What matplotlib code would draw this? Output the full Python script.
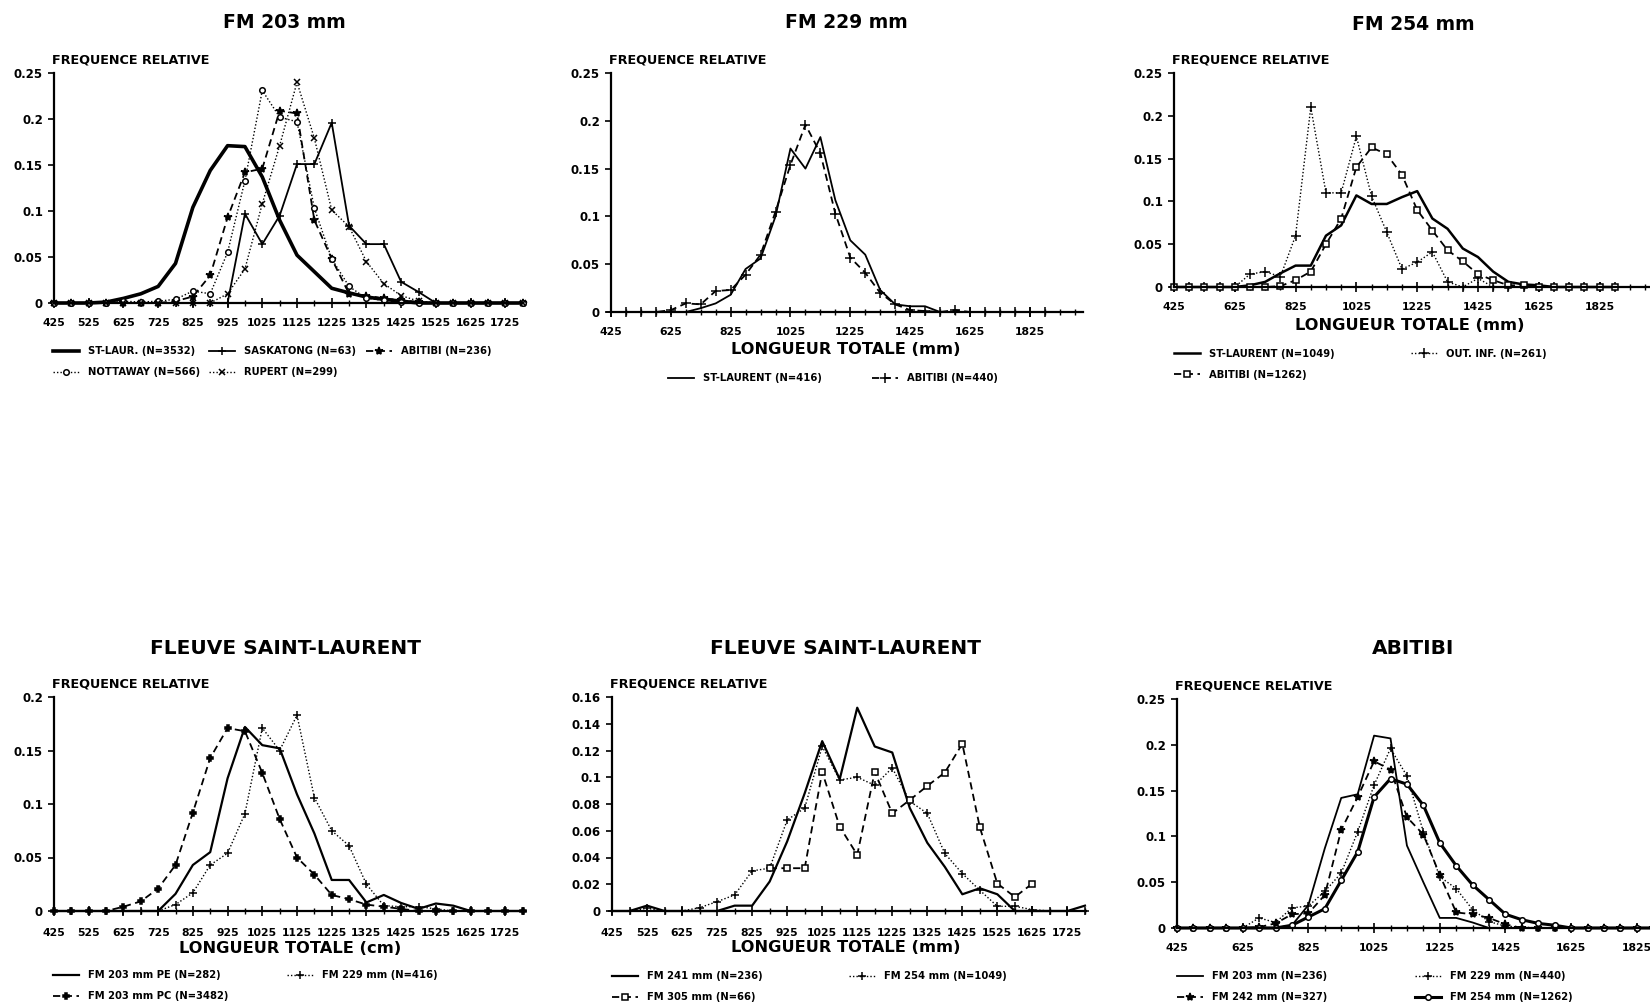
import numpy as np
import matplotlib
matplotlib.use('Agg')
import matplotlib.pyplot as plt

# Length class midpoints (mm), every 50 mm
classes_28 = np.arange(425, 1776, 50)   # 425 .. 1775
classes_30 = np.arange(425, 1876, 50)   # 425 .. 1875
classes_31 = np.arange(425, 1926, 50)   # 425 .. 1925

# --- FM 203 mm ---
st_laur_203 = [0, 0, 0, 0.001, 0.005, 0.01, 0.018, 0.043, 0.104, 0.144, 0.171, 0.170, 0.137, 0.09,
               0.052, 0.034, 0.016, 0.011, 0.0065, 0.004, 0.002, 0, 0, 0, 0, 0, 0, 0]
saskatong_203 = [0, 0, 0, 0, 0, 0, 0, 0, 0, 0, 0, 0.097, 0.064, 0.095, 0.151, 0.151, 0.196, 0.084,
                 0.064, 0.064, 0.023, 0.012, 0, 0, 0, 0, 0, 0]
abitibi_203 = [0, 0, 0, 0, 0, 0, 0, 0.002, 0.007, 0.03, 0.093, 0.142, 0.146, 0.209, 0.206, 0.09,
               0.048, 0.01, 0.008, 0.005, 0.003, 0.001, 0, 0, 0, 0, 0, 0]
nottaway_203 = [0, 0, 0, 0, 0.002, 0.001, 0.002, 0.004, 0.013, 0.01, 0.055, 0.133, 0.231, 0.202,
                0.197, 0.103, 0.048, 0.018, 0.005, 0.003, 0.001, 0, 0, 0, 0, 0, 0, 0]
rupert_203 = [0, 0, 0, 0, 0, 0, 0, 0, 0, 0, 0.01, 0.037, 0.108, 0.171, 0.24, 0.179, 0.101, 0.083,
              0.045, 0.021, 0.008, 0.002, 0, 0, 0, 0, 0, 0]

# --- FM 229 mm ---
st_laurent_229 = [0, 0, 0, 0, 0, 0, 0.004, 0.009, 0.018, 0.045, 0.056, 0.1, 0.171, 0.15, 0.183, 0.117,
                  0.075, 0.06, 0.023, 0.008, 0.006, 0.006, 0, 0, 0, 0, 0, 0, 0, 0]
abitibi_229 = [0, 0, 0, 0, 0.002, 0.009, 0.008, 0.022, 0.023, 0.039, 0.06, 0.105, 0.154, 0.196, 0.166,
               0.103, 0.057, 0.041, 0.02, 0.008, 0.002, 0.001, 0, 0.002, 0, 0, 0, 0, 0, 0]

# --- FM 254 mm ---
st_laurent_254 = [0, 0, 0, 0, 0, 0.002, 0.006, 0.016, 0.025, 0.025, 0.06, 0.072, 0.107, 0.097, 0.097,
                  0.105, 0.112, 0.08, 0.068, 0.045, 0.035, 0.018, 0.006, 0.003, 0.002, 0, 0, 0, 0, 0]
out_inf_254 = [0, 0, 0, 0, 0, 0.015, 0.018, 0.012, 0.06, 0.21, 0.11, 0.11, 0.176, 0.106, 0.064, 0.021,
               0.029, 0.041, 0.006, 0, 0.01, 0, 0, 0, 0, 0, 0, 0, 0, 0]
abitibi_254 = [0, 0, 0, 0, 0, 0, 0, 0.001, 0.008, 0.018, 0.05, 0.08, 0.14, 0.163, 0.155, 0.131, 0.09,
               0.066, 0.043, 0.03, 0.015, 0.008, 0.002, 0.002, 0, 0, 0, 0, 0, 0]

# --- Fleuve Saint-Laurent (cm panel) ---
sl_203_pe = [0, 0, 0, 0, 0, 0, 0, 0.016, 0.043, 0.055, 0.124, 0.172, 0.155, 0.152, 0.109, 0.0725,
             0.029, 0.029, 0.008, 0.015, 0.0075, 0.002, 0.007, 0.005, 0, 0, 0, 0]
sl_229 = [0, 0, 0, 0, 0, 0, 0, 0.006, 0.017, 0.043, 0.054, 0.091, 0.171, 0.15, 0.183, 0.106, 0.075,
          0.061, 0.025, 0.005, 0.004, 0.004, 0.002, 0, 0, 0, 0, 0]
sl_203_pc = [0, 0, 0, 0, 0.004, 0.009, 0.021, 0.043, 0.092, 0.143, 0.171, 0.168, 0.129, 0.086, 0.05,
             0.034, 0.015, 0.011, 0.006, 0.004, 0.002, 0, 0, 0, 0, 0, 0, 0]

# --- Fleuve Saint-Laurent (mm panel) ---
sl_241 = [0, 0, 0.004, 0, 0, 0, 0, 0.004, 0.004, 0.022, 0.052, 0.088, 0.127, 0.0985, 0.152, 0.123,
          0.1185, 0.077, 0.051, 0.033, 0.0125, 0.017, 0.0125, 0, 0, 0, 0, 0.004]
sl_254 = [0, 0, 0.002, 0, 0, 0.0025, 0.007, 0.012, 0.03, 0.032, 0.068, 0.077, 0.123, 0.098, 0.1,
          0.094, 0.107, 0.082, 0.073, 0.043, 0.028, 0.0155, 0.0035, 0.0035, 0.001, 0, 0, 0]
nan = np.nan
sl_305 = [nan, nan, nan, nan, nan, nan, nan, nan, nan, 0.032, 0.032, 0.032, 0.104, 0.063, 0.042,
          0.104, 0.073, 0.083, 0.0935, 0.1035, 0.125, 0.0625, 0.0205, 0.0105, 0.0205, nan, nan, nan]

# --- Abitibi ---
ab_203 = [0, 0, 0, 0, 0, 0, 0, 0.003, 0.025, 0.087, 0.142, 0.146, 0.21, 0.207, 0.09, 0.05, 0.011,
          0.011, 0.006, 0, 0, 0, 0, 0, 0, 0, 0, 0, 0, 0, 0]
ab_229 = [0, 0, 0, 0, 0, 0.011, 0.006, 0.022, 0.024, 0.04, 0.06, 0.105, 0.156, 0.196, 0.166, 0.105,
          0.056, 0.043, 0.02, 0.007, 0.002, 0.001, 0, 0, 0, 0, 0, 0, 0, 0, 0]
ab_242 = [0, 0, 0, 0, 0, 0.001, 0.005, 0.015, 0.016, 0.036, 0.107, 0.143, 0.182, 0.173, 0.121, 0.102,
          0.058, 0.017, 0.015, 0.011, 0.004, 0, 0, 0, 0, 0, 0, 0, 0, 0, 0]
ab_254 = [0, 0, 0, 0, 0, 0, 0, 0.003, 0.012, 0.021, 0.052, 0.083, 0.143, 0.163, 0.157, 0.134, 0.093,
          0.068, 0.047, 0.031, 0.015, 0.009, 0.005, 0.003, 0, 0, 0, 0, 0, 0, 0]

plt.rcParams['font.family'] = 'DejaVu Sans'
plt.rcParams['font.weight'] = 'bold'

W, H = 1650, 1005
fig = plt.figure(figsize=(16.5, 10.05), dpi=100)

SOLID = '-'
DASH = (0, (4, 2.5))
DOT = (0, (1, 1.5))


def add_panel(left, right, top, bottom):
    # pixel box -> figure fraction
    return fig.add_axes([left / W, 1 - bottom / H, (right - left) / W, (bottom - top) / H])


def style(ax, xmax, ymax, ystep, label_step, last_label, pad=7.5):
    ax.set_xlim(425, xmax)
    ax.set_ylim(0, ymax)
    for s in ['top', 'right']:
        ax.spines[s].set_visible(False)
    for s in ['left', 'bottom']:
        ax.spines[s].set_linewidth(1.6)
    yt = np.arange(0, ymax + 1e-9, ystep)
    ax.set_yticks(yt)
    ax.set_yticklabels(['%g' % round(v, 3) for v in yt])
    ax.set_xticks(np.arange(425, last_label + 1, label_step))
    ax.set_xticks(np.arange(425, xmax, 50), minor=True)
    ax.tick_params(axis='x', which='major', direction='inout', length=7, width=1.2, labelsize=7.8, pad=pad)
    ax.tick_params(axis='x', which='minor', direction='inout', length=5, width=1.0)
    ax.tick_params(axis='y', direction='out', length=4, width=1.2, labelsize=8.5, pad=4)
    ax.annotate('FREQUENCE RELATIVE', xy=(0, 1), xycoords='axes fraction', xytext=(-1.5, 5),
                textcoords='offset points', ha='left', va='bottom', fontsize=9.2)


def curve(ax, x, y, ls, lw=1.2, marker=None, ms=5, label=None):
    open_marker = marker in ('o', 's')
    line, = ax.plot(x, y, color='black', linestyle=ls, linewidth=lw, marker=marker, markersize=ms,
                    markerfacecolor='white' if open_marker else 'black', markeredgecolor='black',
                    markeredgewidth=1.1, clip_on=False, label=label)
    return line


def legend_col(handles, x, y):
    fig.legend(handles=handles, loc='upper left', bbox_to_anchor=(x / W, 1 - y / H),
               frameon=False, fontsize=7.2, handlelength=2.6, handletextpad=0.9,
               labelspacing=1.1, borderpad=0, borderaxespad=0, numpoints=1)


def title(x, y, text, size):
    fig.text(x / W, 1 - y / H, text, ha='center', va='center', fontsize=size)


# ---------------- FM 203 mm ----------------
ax1 = add_panel(54, 523, 73, 303)
style(ax1, 1776, 0.25, 0.05, 100, 1725)
h1 = curve(ax1, classes_28, st_laur_203, SOLID, lw=2.6, label='ST-LAUR. (N=3532)')
h2 = curve(ax1, classes_28, saskatong_203, SOLID, lw=1.3, marker='+', ms=6, label='SASKATONG (N=63)')
h3 = curve(ax1, classes_28, abitibi_203, DASH, lw=1.3, marker='*', ms=6, label='ABITIBI (N=236)')
h4 = curve(ax1, classes_28, nottaway_203, DOT, lw=1.0, marker='o', ms=4, label='NOTTAWAY (N=566)')
h5 = curve(ax1, classes_28, rupert_203, DOT, lw=1.0, marker='x', ms=4.5, label='RUPERT (N=299)')
legend_col([h1, h4], 53, 346)
legend_col([h2, h5], 209, 346)
legend_col([h3], 366, 346)
title(284, 23, 'FM 203 mm', 13.5)

# ---------------- FM 229 mm ----------------
ax2 = add_panel(611, 1083, 73, 312)
style(ax2, 2003, 0.25, 0.05, 200, 1825)
h1 = curve(ax2, classes_30, st_laurent_229, SOLID, lw=1.3, label='ST-LAURENT (N=416)')
h2 = curve(ax2, classes_30, abitibi_229, DASH, lw=1.3, marker='+', ms=7, label='ABITIBI (N=440)')
legend_col([h1], 668, 373)
legend_col([h2], 872, 373)
title(846, 23, 'FM 229 mm', 13.5)
title(846, 350, 'LONGUEUR TOTALE (mm)', 11.7)

# ---------------- FM 254 mm ----------------
ax3 = add_panel(1174, 1650, 73, 287)
style(ax3, 1991, 0.25, 0.05, 200, 1825)
h1 = curve(ax3, classes_30, st_laurent_254, SOLID, lw=1.8, label='ST-LAURENT (N=1049)')
h2 = curve(ax3, classes_30, out_inf_254, DOT, lw=1.0, marker='+', ms=7, label='OUT. INF. (N=261)')
h3 = curve(ax3, classes_30, abitibi_254, DASH, lw=1.3, marker='s', ms=4, label='ABITIBI (N=1262)')
legend_col([h1, h3], 1174, 349)
legend_col([h2], 1411, 349)
title(1413, 25, 'FM 254 mm', 13.5)
title(1410, 325, 'LONGUEUR TOTALE (mm)', 11.7)

# ---------------- Fleuve Saint-Laurent (cm) ----------------
ax4 = add_panel(54, 523, 697, 911)
style(ax4, 1776, 0.2, 0.05, 100, 1725, pad=8.5)
h1 = curve(ax4, classes_28, sl_203_pe, SOLID, lw=1.6, label='FM 203 mm PE (N=282)')
h2 = curve(ax4, classes_28, sl_229, DOT, lw=1.0, marker='+', ms=6, label='FM 229 mm (N=416)')
h3 = curve(ax4, classes_28, sl_203_pc, DASH, lw=1.3, marker='P', ms=4.5, label='FM 203 mm PC (N=3482)')
legend_col([h1, h3], 53, 970)
legend_col([h2], 287, 970)
title(286, 648, 'FLEUVE SAINT-LAURENT', 14.5)
title(290, 948, 'LONGUEUR TOTALE (cm)', 11.7)

# ---------------- Fleuve Saint-Laurent (mm) ----------------
ax5 = add_panel(612, 1086, 697, 911)
style(ax5, 1778, 0.16, 0.02, 100, 1725, pad=8.5)
h1 = curve(ax5, classes_28, sl_241, SOLID, lw=1.6, label='FM 241 mm (N=236)')
h2 = curve(ax5, classes_28, sl_254, DOT, lw=1.0, marker='+', ms=6, label='FM 254 mm (N=1049)')
h3 = curve(ax5, classes_28, sl_305, DASH, lw=1.3, marker='s', ms=4, label='FM 305 mm (N=66)')
legend_col([h1, h3], 612, 971)
legend_col([h2], 849, 971)
title(846, 648, 'FLEUVE SAINT-LAURENT', 14.5)
title(846, 947, 'LONGUEUR TOTALE (mm)', 11.7)

# ---------------- Abitibi ----------------
ax6 = add_panel(1177, 1650, 699, 928)
style(ax6, 1865, 0.25, 0.05, 200, 1825, pad=7)
h1 = curve(ax6, classes_31, ab_203, SOLID, lw=1.3, label='FM 203 mm (N=236)')
h2 = curve(ax6, classes_31, ab_229, DOT, lw=1.0, marker='+', ms=6, label='FM 229 mm (N=440)')
h3 = curve(ax6, classes_31, ab_242, DASH, lw=1.3, marker='*', ms=6, label='FM 242 mm (N=327)')
h4 = curve(ax6, classes_31, ab_254, SOLID, lw=2.2, marker='o', ms=4, label='FM 254 mm (N=1262)')
legend_col([h1, h3], 1177, 971)
legend_col([h2, h4], 1415, 971)
title(1413, 648, 'ABITIBI', 14.5)

fig.savefig('out.png', dpi=100)
